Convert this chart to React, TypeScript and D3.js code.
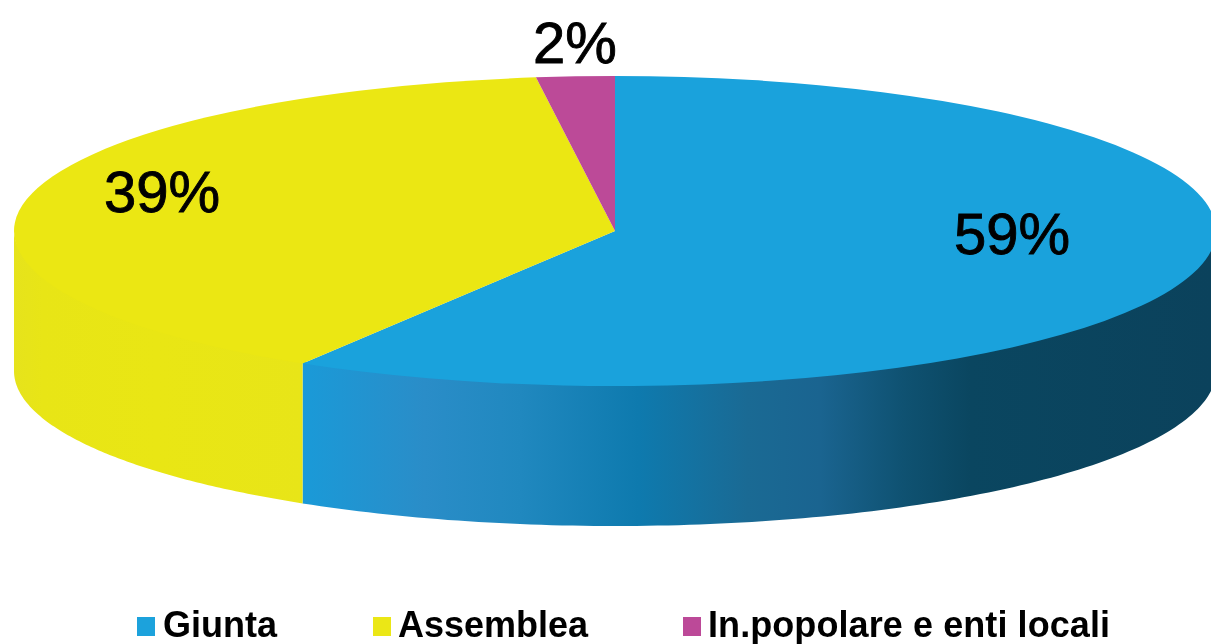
import React from "react";
import * as d3 from "d3";

const categories = ["Giunta", "Assemblea", "In.popolare e enti locali"];
const shares = [58.7, 39.2, 2.1];
const percentLabels = ["59%", "39%", "2%"];
const topColors = ["#1aa2dc", "#ebe713", "#bc4a98"];
const sideColors = ["url(#blueSide)", "url(#yellowSide)", "#8a3570"];

const W = 1211, H = 644;
const cx = 615, cy = 231, rx = 601, ry = 155, depth = 140;
const labelPos: [number, number][] = [[1012, 254], [162, 212], [575, 63]];
const legendMarks = [137, 373, 683];
const legendText = [163, 398, 708];

const blueStops: [number, string][] = [
  [0, "#1a9ad8"], [0.135, "#2a8dc8"], [0.24, "#2088bf"], [0.37, "#0e7aae"], [0.49, "#1a6a94"],
  [0.57, "#1a6490"], [0.66, "#0f5272"], [0.735, "#0a4660"], [1, "#0b425c"],
];
const yellowStops: [number, string][] = [
  [0, "#e6e31c"], [0.1, "#e8e516"], [0.5, "#e9e614"], [1, "#e8e518"],
];

export default function App() {
  const pie = d3.pie<number>().value((d) => d).sort(null);
  const arcs = pie(shares);
  const topArc = d3.arc<d3.PieArcDatum<number>>().innerRadius(0).outerRadius(rx);

  const px = (a: number) => cx + rx * Math.sin(a);
  const py = (a: number) => cy - ry * Math.cos(a);

  const sidePath = (start: number, end: number) => {
    const a0 = Math.max(start, Math.PI / 2);
    const a1 = Math.min(end, (3 * Math.PI) / 2);
    if (a1 <= a0) return null;
    const angles = d3.range(0, 121).map((i) => a0 + ((a1 - a0) * i) / 120);
    const front = angles.map((a) => [px(a), py(a) - 2] as [number, number]);
    const back = angles.slice().reverse().map((a) => [px(a), py(a) + depth] as [number, number]);
    return d3.line()([...front, ...back]) + "Z";
  };

  return (
    <svg
      width={W}
      height={H}
      viewBox={`0 0 ${W} ${H}`}
      style={{ position: "fixed", left: 0, top: 0, background: "#fff", display: "block" }}
    >
      <defs>
        <linearGradient id="blueSide" gradientUnits="userSpaceOnUse" x1={302} x2={1211} y1={0} y2={0}>
          {blueStops.map(([o, c]) => <stop key={o} offset={o} stopColor={c} />)}
        </linearGradient>
        <linearGradient id="yellowSide" gradientUnits="userSpaceOnUse" x1={14} x2={302} y1={0} y2={0}>
          {yellowStops.map(([o, c]) => <stop key={o} offset={o} stopColor={c} />)}
        </linearGradient>
        <filter id="soft" x="-2%" y="-2%" width="104%" height="104%">
          <feGaussianBlur stdDeviation={0.5} />
        </filter>
      </defs>
      <g>
        {arcs.map((a, i) => {
          const d = sidePath(a.startAngle, a.endAngle);
          return d ? <path key={i} d={d} fill={sideColors[i]} /> : null;
        })}
        <g transform={`translate(${cx},${cy}) scale(1,${ry / rx})`}>
          {arcs.map((a, i) => (
            <path key={i} d={topArc(a) as string} fill={topColors[i]} />
          ))}
        </g>
      </g>
      <g filter="url(#soft)">
        <g fontFamily="'Liberation Sans', Arial, sans-serif" fontSize={58} fill="#050505" textAnchor="middle">
          {percentLabels.map((t, i) => (
            <text key={t} x={labelPos[i][0]} y={labelPos[i][1]} stroke="#050505" strokeWidth={0.9}>{t}</text>
          ))}
        </g>
        <g fontFamily="'Liberation Sans', Arial, sans-serif" fontSize={36} fontWeight={700} fill="#050505">
          {categories.map((c, i) => (
            <g key={c}>
              <rect x={legendMarks[i]} y={617} width={18} height={19} fill={topColors[i]} />
              <text x={legendText[i]} y={637} textLength={i === 2 ? 402 : undefined}>{c}</text>
            </g>
          ))}
        </g>
      </g>
    </svg>
  );
}
